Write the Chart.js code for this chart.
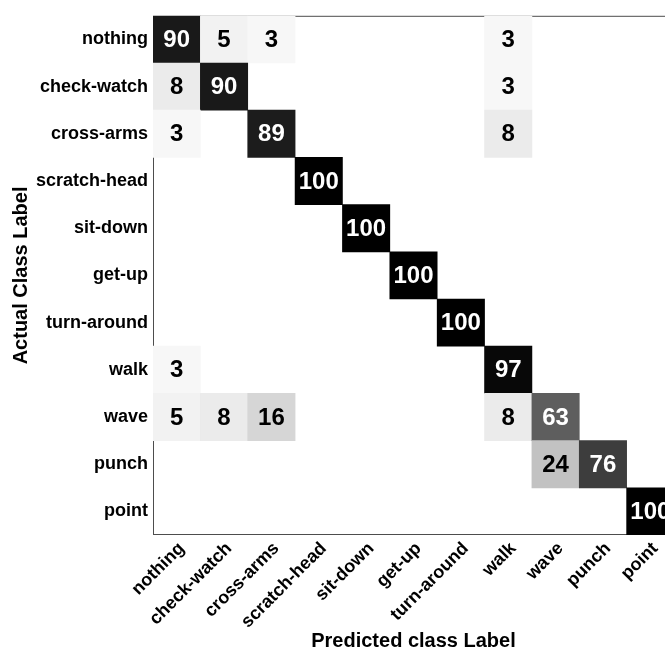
<!DOCTYPE html>
<html>
<head>
<meta charset="utf-8">
<title>Confusion matrix</title>
<script src="https://cdn.jsdelivr.net/npm/chart.js@4/dist/chart.umd.min.js"></script>
<style>
  html, body { margin: 0; padding: 0; background: #fff; overflow: hidden; }
  #wrap { width: 676px; height: 655px; }
</style>
</head>
<body>
<div id="wrap"><canvas id="cm" width="676" height="655"></canvas></div>
<script>
// class names, used for both axes
const classes = ['nothing', 'check-watch', 'cross-arms', 'scratch-head', 'sit-down',
  'get-up', 'turn-around', 'walk', 'wave', 'punch', 'point'];

// one row per actual class, percent per predicted class
const nothing     = [90,  5,  3,   0,   0,   0,   0,  3,  0,  0,   0];
const checkWatch  = [ 8, 90,  0,   0,   0,   0,   0,  3,  0,  0,   0];
const crossArms   = [ 3,  0, 89,   0,   0,   0,   0,  8,  0,  0,   0];
const scratchHead = [ 0,  0,  0, 100,   0,   0,   0,  0,  0,  0,   0];
const sitDown     = [ 0,  0,  0,   0, 100,   0,   0,  0,  0,  0,   0];
const getUp       = [ 0,  0,  0,   0,   0, 100,   0,  0,  0,  0,   0];
const turnAround  = [ 0,  0,  0,   0,   0,   0, 100,  0,  0,  0,   0];
const walk        = [ 3,  0,  0,   0,   0,   0,   0, 97,  0,  0,   0];
const wave        = [ 5,  8, 16,   0,   0,   0,   0,  8, 63,  0,   0];
const punch       = [ 0,  0,  0,   0,   0,   0,   0,  0, 24, 76,   0];
const point       = [ 0,  0,  0,   0,   0,   0,   0,  0,  0,  0, 100];

const rows = [nothing, checkWatch, crossArms, scratchHead, sitDown, getUp,
  turnAround, walk, wave, punch, point];

const FONT = "'Liberation Sans', Arial, sans-serif";

// each non-zero cell becomes a floating bar spanning one row
const cells = [];
rows.forEach((row, r) => {
  row.forEach((v, c) => {
    if (v > 0) cells.push({ x: classes[c], y: [r - 0.5, r + 0.5], v: v });
  });
});

const shade = v => {
  const g = Math.round(255 * (1 - v / 100));
  return `rgb(${g},${g},${g})`;
};

const frame = {
  id: 'frame',
  beforeDatasetsDraw(chart) {
    const { ctx, chartArea: a } = chart;
    ctx.save();
    ctx.strokeStyle = '#4d4d4d';
    ctx.lineWidth = 1;
    ctx.strokeRect(a.left + 0.5, a.top + 0.5, a.width - 1, a.height - 1);
    ctx.restore();
  }
};

const cellText = {
  id: 'cellText',
  afterDatasetsDraw(chart) {
    const ctx = chart.ctx;
    const meta = chart.getDatasetMeta(0);
    ctx.save();
    ctx.font = `bold 24px ${FONT}`;
    ctx.textAlign = 'center';
    ctx.textBaseline = 'middle';
    meta.data.forEach((bar, i) => {
      const v = cells[i].v;
      ctx.fillStyle = v > 50 ? '#fff' : '#000';
      ctx.fillText(String(v), bar.x, (bar.y + bar.base) / 2 + 1);
    });
    ctx.restore();
  }
};

new Chart(document.getElementById('cm'), {
  type: 'bar',
  data: {
    labels: classes,
    datasets: [{
      data: cells,
      backgroundColor: cells.map(d => shade(d.v)),
      borderWidth: 0,
      barPercentage: 1,
      categoryPercentage: 1
    }]
  },
  options: {
    responsive: false,
    animation: false,
    layout: { padding: { top: 13, right: 2, left: 0, bottom: 0 } },
    plugins: { legend: { display: false }, tooltip: { enabled: false } },
    scales: {
      x: {
        type: 'category',
        offset: true,
        grid: { display: false, drawTicks: false },
        border: { display: false },
        ticks: {
          color: '#000',
          font: { family: FONT, size: 18, weight: 'bold' },
          maxRotation: 45,
          minRotation: 45,
          autoSkip: false,
          padding: 3,
          labelOffset: 5
        },
        title: {
          display: true,
          text: 'Predicted class Label',
          color: '#000',
          font: { family: FONT, size: 20, weight: 'bold' },
          padding: { top: 0, bottom: 2 }
        },
        afterFit: s => { s.height = 120; }
      },
      y: {
        type: 'linear',
        min: -0.5,
        max: 10.5,
        reverse: true,
        grid: { display: false, drawTicks: false },
        border: { display: false },
        afterBuildTicks: s => { s.ticks = classes.map((_, i) => ({ value: i })); },
        ticks: {
          color: '#000',
          font: { family: FONT, size: 18, weight: 'bold' },
          autoSkip: false,
          padding: 5,
          callback: v => classes[v]
        },
        title: {
          display: true,
          text: 'Actual Class Label',
          color: '#000',
          font: { family: FONT, size: 20, weight: 'bold' },
          padding: { top: 9, bottom: 0 }
        },
        afterFit: s => { s.width = 153; }
      }
    }
  },
  plugins: [frame, cellText]
});
</script>
</body>
</html>
